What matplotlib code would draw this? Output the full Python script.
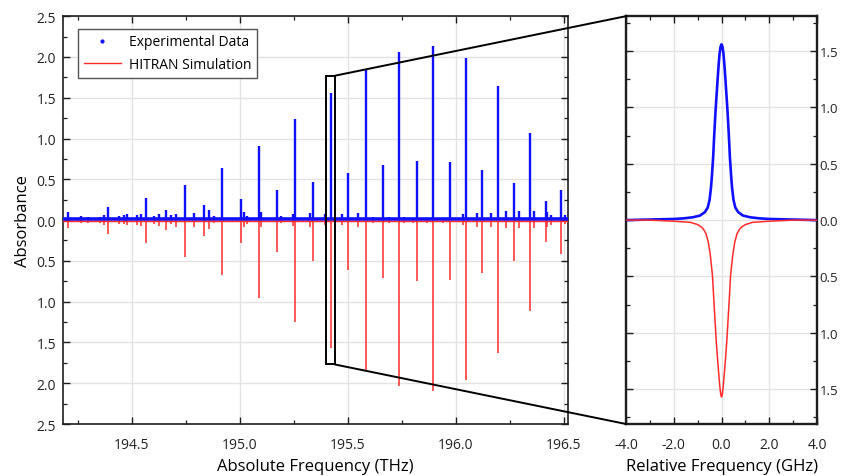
import matplotlib
matplotlib.use("Agg")
import matplotlib.pyplot as plt
from matplotlib.lines import Line2D
from matplotlib.patches import Rectangle, ConnectionPatch
from matplotlib.ticker import MultipleLocator, FuncFormatter

BLUE = "#1010ff"
RED = "#ff2b2b"
GRID = "#e3e3e3"
SPINE = "#1e1e1e"

# main band lines: frequency (THz), measured absorbance, HITRAN absorbance
line_freq = [194.205, 194.295, 194.387, 194.477, 194.567, 194.657, 194.744, 194.832,
             194.918, 195.005, 195.089, 195.171, 195.256, 195.338, 195.421, 195.501,
             195.582, 195.661, 195.739, 195.819, 195.897, 195.973, 196.049, 196.124,
             196.198, 196.271, 196.344, 196.417, 196.487]
line_exp = [0.10, 0.04, 0.16, 0.07, 0.27, 0.12, 0.43, 0.18,
            0.64, 0.26, 0.91, 0.37, 1.24, 0.47, 1.56, 0.58,
            1.85, 0.67, 2.06, 0.72, 2.13, 0.71, 1.99, 0.62,
            1.64, 0.46, 1.07, 0.24, 0.37]
line_sim = [0.10, 0.03, 0.17, 0.06, 0.28, 0.12, 0.45, 0.19,
            0.67, 0.28, 0.95, 0.39, 1.25, 0.50, 1.57, 0.61,
            1.85, 0.71, 2.03, 0.75, 2.09, 0.74, 1.96, 0.65,
            1.63, 0.50, 1.11, 0.27, 0.41]

# weak hot-band lines
hot_freq = [194.264, 194.352, 194.370, 194.440, 194.463, 194.523, 194.542, 194.602,
            194.626, 194.681, 194.704, 194.786, 194.858, 194.880, 195.017, 195.032,
            195.097, 195.190, 195.247, 195.325, 195.395, 195.471, 195.545, 195.619,
            195.693, 195.761, 195.800, 195.869, 195.943, 196.036, 196.100, 196.165,
            196.231, 196.295, 196.362, 196.424, 196.443, 196.506]
hot_exp = [0.05, 0.04, 0.06, 0.05, 0.06, 0.06, 0.08, 0.05,
           0.08, 0.06, 0.08, 0.09, 0.12, 0.05, 0.10, 0.05,
           0.10, 0.05, 0.08, 0.09, 0.07, 0.07, 0.09, 0.04,
           0.04, 0.04, 0.03, 0.03, 0.03, 0.07, 0.09, 0.09,
           0.11, 0.11, 0.11, 0.10, 0.06, 0.06]
hot_sim = [0.04, 0.04, 0.06, 0.05, 0.05, 0.06, 0.07, 0.05,
           0.07, 0.05, 0.08, 0.08, 0.11, 0.04, 0.09, 0.05,
           0.09, 0.04, 0.07, 0.08, 0.06, 0.06, 0.08, 0.03,
           0.03, 0.03, 0.03, 0.03, 0.03, 0.06, 0.08, 0.08,
           0.10, 0.10, 0.10, 0.09, 0.06, 0.05]

# single line at 195.42 THz, relative frequency (GHz)
zoom_x_exp = [-4.0, -3.0, -2.0, -1.6, -1.2, -0.9, -0.7, -0.58, -0.5, -0.44, -0.40,
              -0.35, -0.30, -0.25, -0.21, -0.16, -0.12, -0.08, -0.04, 0.0,
              0.04, 0.08, 0.12, 0.16, 0.21, 0.25, 0.30, 0.35, 0.40, 0.44,
              0.5, 0.58, 0.7, 0.9, 1.2, 1.6, 2.0, 3.0, 4.0]
zoom_y_exp = [0.0, 0.005, 0.01, 0.015, 0.025, 0.04, 0.07, 0.11, 0.18, 0.29, 0.40,
              0.56, 0.78, 0.97, 1.10, 1.26, 1.38, 1.48, 1.54, 1.56,
              1.54, 1.48, 1.38, 1.26, 1.10, 0.97, 0.78, 0.56, 0.40, 0.29,
              0.18, 0.11, 0.07, 0.04, 0.025, 0.015, 0.01, 0.005, 0.0]
zoom_x_sim = [-4.0, -3.0, -2.0, -1.3, -1.0, -0.85, -0.76, -0.65, -0.55, -0.47,
              -0.38, -0.30, -0.22, -0.16, -0.11, -0.07, -0.03, 0.0,
              0.03, 0.07, 0.11, 0.16, 0.22, 0.30, 0.38, 0.47, 0.55, 0.65,
              0.76, 0.85, 1.0, 1.3, 2.0, 3.0, 4.0]
zoom_y_sim = [0.0, 0.0, -0.01, -0.02, -0.04, -0.06, -0.08, -0.12, -0.20, -0.31,
              -0.49, -0.79, -1.08, -1.25, -1.38, -1.48, -1.55, -1.57,
              -1.55, -1.48, -1.38, -1.25, -1.08, -0.79, -0.49, -0.31, -0.20, -0.12,
              -0.08, -0.06, -0.04, -0.02, -0.01, 0.0, 0.0]

plt.rcParams["font.family"] = ["Open Sans", "DejaVu Sans"]
plt.rcParams["font.size"] = 10

fig = plt.figure(figsize=(8.43, 4.77), dpi=100)
ax = fig.add_axes([0.0747, 0.109, 0.599, 0.855])
axz = fig.add_axes([0.7426, 0.109, 0.2266, 0.855])

abs_fmt = FuncFormatter(lambda v, p: f"{abs(v):.1f}")

# left: full spectrum
freq = line_freq + hot_freq
exp = line_exp + hot_exp
sim = [-v for v in line_sim + hot_sim]
ax.vlines(freq, 0, exp, color=BLUE, lw=1.7, zorder=3)
ax.vlines(freq, 0, sim, color=RED, lw=1.1, zorder=3)
ax.axhline(0.01, color=BLUE, lw=2.6, zorder=3)
ax.axhline(-0.012, color=RED, lw=1.0, zorder=4)

ax.set_xlim(194.18, 196.52)
ax.set_ylim(-2.5, 2.5)
ax.xaxis.set_major_locator(MultipleLocator(0.5))
ax.xaxis.set_minor_locator(MultipleLocator(0.25))
ax.yaxis.set_major_locator(MultipleLocator(0.5))
ax.yaxis.set_minor_locator(MultipleLocator(0.25))
ax.xaxis.set_major_formatter(FuncFormatter(lambda v, p: f"{v:.1f}"))
ax.yaxis.set_major_formatter(abs_fmt)
ax.grid(True, which="major", color=GRID, lw=1.0, zorder=0)
ax.set_xlabel("Absolute Frequency (THz)", fontsize=12, labelpad=5)
ax.set_ylabel("Absorbance", fontsize=12, labelpad=4)

# zoom box around the 195.42 THz line
ax.add_patch(Rectangle((195.40, -1.77), 0.04, 3.54, fill=False, ec="k", lw=1.4, zorder=6))

handles = [
    Line2D([], [], color=BLUE, marker=".", ls="none", markersize=4),
    Line2D([], [], color=RED, lw=1.0),
]
leg = ax.legend(handles, ["Experimental Data", "HITRAN Simulation"], loc="upper left",
                bbox_to_anchor=(0.016, 0.986), fancybox=False, framealpha=1,
                edgecolor="#555555", fontsize=10, handlelength=2.7,
                borderpad=0.4, labelspacing=0.55, handletextpad=0.6)
leg.get_frame().set_linewidth(1.0)

# right: single line detail
axz.plot(zoom_x_exp, zoom_y_exp, color=BLUE, lw=1.9, zorder=3)
axz.plot(zoom_x_sim, zoom_y_sim, color=RED, lw=1.1, zorder=3)
axz.set_xlim(-4, 4)
axz.set_ylim(-1.81, 1.81)
axz.xaxis.set_major_locator(MultipleLocator(2))
axz.xaxis.set_minor_locator(MultipleLocator(1))
axz.yaxis.set_major_locator(MultipleLocator(0.5))
axz.yaxis.set_minor_locator(MultipleLocator(0.25))
axz.xaxis.set_major_formatter(FuncFormatter(lambda v, p: f"{v:.1f}"))
axz.yaxis.set_major_formatter(abs_fmt)
axz.grid(True, which="major", color=GRID, lw=1.0, zorder=0)
axz.set_xlabel("Relative Frequency (GHz)", fontsize=12, labelpad=5)

for a, lw in ((ax, 1.2), (axz, 1.7)):
    for s in a.spines.values():
        s.set_color(SPINE)
        s.set_linewidth(lw)
    a.tick_params(which="both", direction="in", top=True, right=True, colors=SPINE,
                  labelcolor="#222222")
    a.tick_params(which="major", length=5, width=1.0, labelsize=10)
    a.tick_params(which="minor", length=3, width=0.9)
    a.tick_params(axis="x", which="major", pad=9)
    a.tick_params(axis="y", which="major", pad=5)
axz.tick_params(axis="y", labelleft=False, labelright=True, pad=2, labelsize=9.5)

for yA, yB in ((1.77, 1.0), (-1.77, 0.0)):
    con = ConnectionPatch(xyA=(195.44, yA), coordsA=ax.transData,
                          xyB=(0.0, yB), coordsB=axz.transAxes,
                          color="k", lw=1.4, zorder=6)
    fig.add_artist(con)

fig.savefig("out.png", dpi=100)
